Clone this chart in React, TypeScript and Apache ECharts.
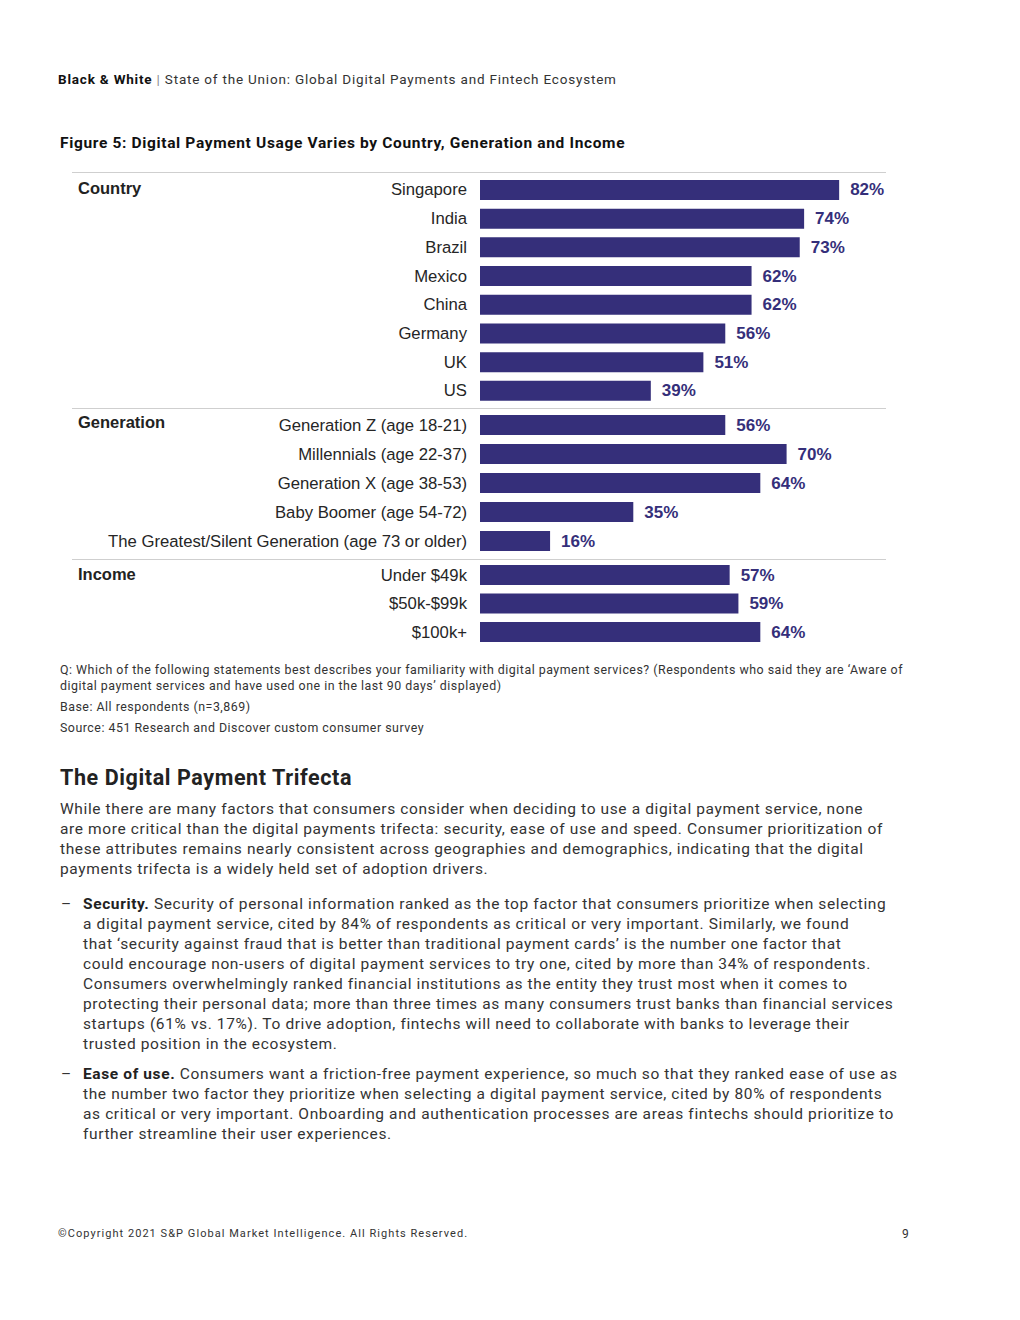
import React, { useEffect, useRef } from "react";
import * as echarts from "echarts";

const countryCats = ["Singapore", "India", "Brazil", "Mexico", "China", "Germany", "UK", "US"];
const countryVals = [82, 74, 73, 62, 62, 56, 51, 39];
const genCats = [
  "Generation Z (age 18-21)",
  "Millennials (age 22-37)",
  "Generation X (age 38-53)",
  "Baby Boomer (age 54-72)",
  "The Greatest/Silent Generation (age 73 or older)",
];
const genVals = [56, 70, 64, 35, 16];
const incomeCats = ["Under $49k", "$50k-$99k", "$100k+"];
const incomeVals = [57, 59, 64];
const groupNames = ["Country", "Generation", "Income"];

const BAR = "#352f7a";
const LABEL_FONT = "'Liberation Sans', Arial, sans-serif";
const BODY_FONT = "Roboto, 'Liberation Sans', sans-serif";

const noteLines = [
  "Q: Which of the following statements best describes your familiarity with digital payment services? (Respondents who said they are ‘Aware of",
  "digital payment services and have used one in the last 90 days’ displayed)",
];
const bodyLines = [
  "While there are many factors that consumers consider when deciding to use a digital payment service, none",
  "are more critical than the digital payments trifecta: security, ease of use and speed. Consumer prioritization of",
  "these attributes remains nearly consistent across geographies and demographics, indicating that the digital",
  "payments trifecta is a widely held set of adoption drivers.",
];
const bullet1 = [
  "Security of personal information ranked as the top factor that consumers prioritize when selecting",
  "a digital payment service, cited by 84% of respondents as critical or very important. Similarly, we found",
  "that ‘security against fraud that is better than traditional payment cards’ is the number one factor that",
  "could encourage non-users of digital payment services to try one, cited by more than 34% of respondents.",
  "Consumers overwhelmingly ranked financial institutions as the entity they trust most when it comes to",
  "protecting their personal data; more than three times as many consumers trust banks than financial services",
  "startups (61% vs. 17%). To drive adoption, fintechs will need to collaborate with banks to leverage their",
  "trusted position in the ecosystem.",
];
const bullet2 = [
  "Consumers want a friction-free payment experience, so much so that they ranked ease of use as",
  "the number two factor they prioritize when selecting a digital payment service, cited by 80% of respondents",
  "as critical or very important. Onboarding and authentication processes are areas fintechs should prioritize to",
  "further streamline their user experiences.",
];

const CHART_TOP = 160;

function Chart() {
  const ref = useRef<HTMLDivElement>(null);
  useEffect(() => {
    if (!ref.current) return;
    const chart = echarts.init(ref.current, null, { renderer: "svg" });
    const groups = [
      { cats: countryCats, vals: countryVals, top: 15.6, height: 229.6 },
      { cats: genCats, vals: genVals, top: 250.5, height: 145 },
      { cats: incomeCats, vals: incomeVals, top: 400.8, height: 85.5 },
    ];
    const grids = groups.map((g) => ({ left: 480, width: 438, top: g.top, height: g.height }));
    const xAxes = groups.map((_, i) => ({
      type: "value",
      gridIndex: i,
      min: 0,
      max: 100,
      show: false,
    }));
    const yAxes = groups.map((g, i) => ({
      type: "category",
      gridIndex: i,
      data: g.cats,
      inverse: true,
      axisLine: { show: false },
      axisTick: { show: false },
      splitLine: { show: false },
      axisLabel: {
        margin: 13,
        fontSize: 16.7,
        color: "#262626",
        fontFamily: LABEL_FONT,
      },
    }));
    const series = groups.map((g, i) => ({
      type: "bar",
      xAxisIndex: i,
      yAxisIndex: i,
      data: g.vals,
      barWidth: 20,
      itemStyle: { color: BAR },
      label: {
        show: true,
        position: "right",
        distance: 11,
        formatter: "{c}%",
        fontSize: 17,
        fontWeight: "bold",
        color: BAR,
        fontFamily: LABEL_FONT,
      },
    }));
    const sepYs = [12.5, 248.5, 399.5];
    const headerYs = [28, 262, 414];
    const graphic: any[] = [];
    sepYs.forEach((y) =>
      graphic.push({
        type: "line",
        shape: { x1: 72, y1: y, x2: 886, y2: y },
        style: { stroke: "#cfcfcf", lineWidth: 1.2 },
      })
    );
    groupNames.forEach((n, i) =>
      graphic.push({
        type: "text",
        x: 78,
        y: headerYs[i],
        style: {
          text: n,
          fontSize: 16.5,
          fontWeight: "bold",
          fill: "#222",
          fontFamily: LABEL_FONT,
          verticalAlign: "middle",
        },
      })
    );
    chart.setOption({
      animation: false,
      grid: grids,
      xAxis: xAxes,
      yAxis: yAxes,
      series,
      graphic,
    });
    return () => chart.dispose();
  }, []);
  return (
    <div
      ref={ref}
      style={{ position: "absolute", left: 0, top: CHART_TOP, width: 1020, height: 500 }}
    />
  );
}

function Line(props: { y: number; x: number; size: number; children: any; style?: any }) {
  return (
    <div
      style={{
        position: "absolute",
        left: props.x,
        top: props.y - 10,
        lineHeight: "20px",
        fontSize: props.size,
        whiteSpace: "nowrap",
        fontFamily: BODY_FONT,
        color: "#333",
        letterSpacing: "0.62px",
        ...(props.style || {}),
      }}
    >
      {props.children}
    </div>
  );
}

const NOTE_STYLE = { color: "#333", letterSpacing: "0.5px" };

export default function App() {
  return (
    <div
      style={{
        position: "absolute",
        left: 0,
        top: 0,
        width: 1020,
        height: 1320,
        background: "#fff",
        overflow: "hidden",
      }}
    >
      <Line x={58} y={79} size={13.5} style={{ letterSpacing: "0.8px", color: "#333" }}>
        <b style={{ color: "#111" }}>Black &amp; White</b>
        <span style={{ color: "#888" }}> | </span>State of the Union: Global Digital Payments and Fintech Ecosystem
      </Line>
      <Line x={60} y={143} size={15.5} style={{ fontWeight: 700, color: "#111", letterSpacing: "0.65px" }}>
        Figure 5: Digital Payment Usage Varies by Country, Generation and Income
      </Line>
      <Chart />
      {noteLines.map((t, i) => (
        <Line key={"n" + i} x={60} y={670 + i * 16} size={12.4} style={NOTE_STYLE}>
          {t}
        </Line>
      ))}
      <Line x={60} y={707} size={12.4} style={NOTE_STYLE}>
        Base: All respondents (n=3,869)
      </Line>
      <Line x={60} y={728} size={12.4} style={NOTE_STYLE}>
        Source: 451 Research and Discover custom consumer survey
      </Line>
      <Line x={60} y={778} size={21.5} style={{ fontWeight: 700, color: "#222", letterSpacing: "0.6px" }}>
        The Digital Payment Trifecta
      </Line>
      {bodyLines.map((t, i) => (
        <Line key={"b" + i} x={60} y={809 + i * 20} size={15.5}>
          {t}
        </Line>
      ))}
      <Line x={61} y={904} size={15.5}>–</Line>
      {bullet1.map((t, i) => (
        <Line key={"s" + i} x={83} y={904 + i * 20} size={15.5}>
          {i === 0 ? <b style={{ color: "#222" }}>Security. </b> : null}
          {t}
        </Line>
      ))}
      <Line x={61} y={1074} size={15.5}>–</Line>
      {bullet2.map((t, i) => (
        <Line key={"e" + i} x={83} y={1074 + i * 20} size={15.5}>
          {i === 0 ? <b style={{ color: "#222" }}>Ease of use. </b> : null}
          {t}
        </Line>
      ))}
      <Line x={58} y={1234} size={11} style={{ letterSpacing: "1.05px", color: "#333" }}>
        ©Copyright 2021 S&amp;P Global Market Intelligence. All Rights Reserved.
      </Line>
      <Line x={902} y={1234} size={12} style={{ color: "#333", letterSpacing: "0px" }}>
        9
      </Line>
    </div>
  );
}
